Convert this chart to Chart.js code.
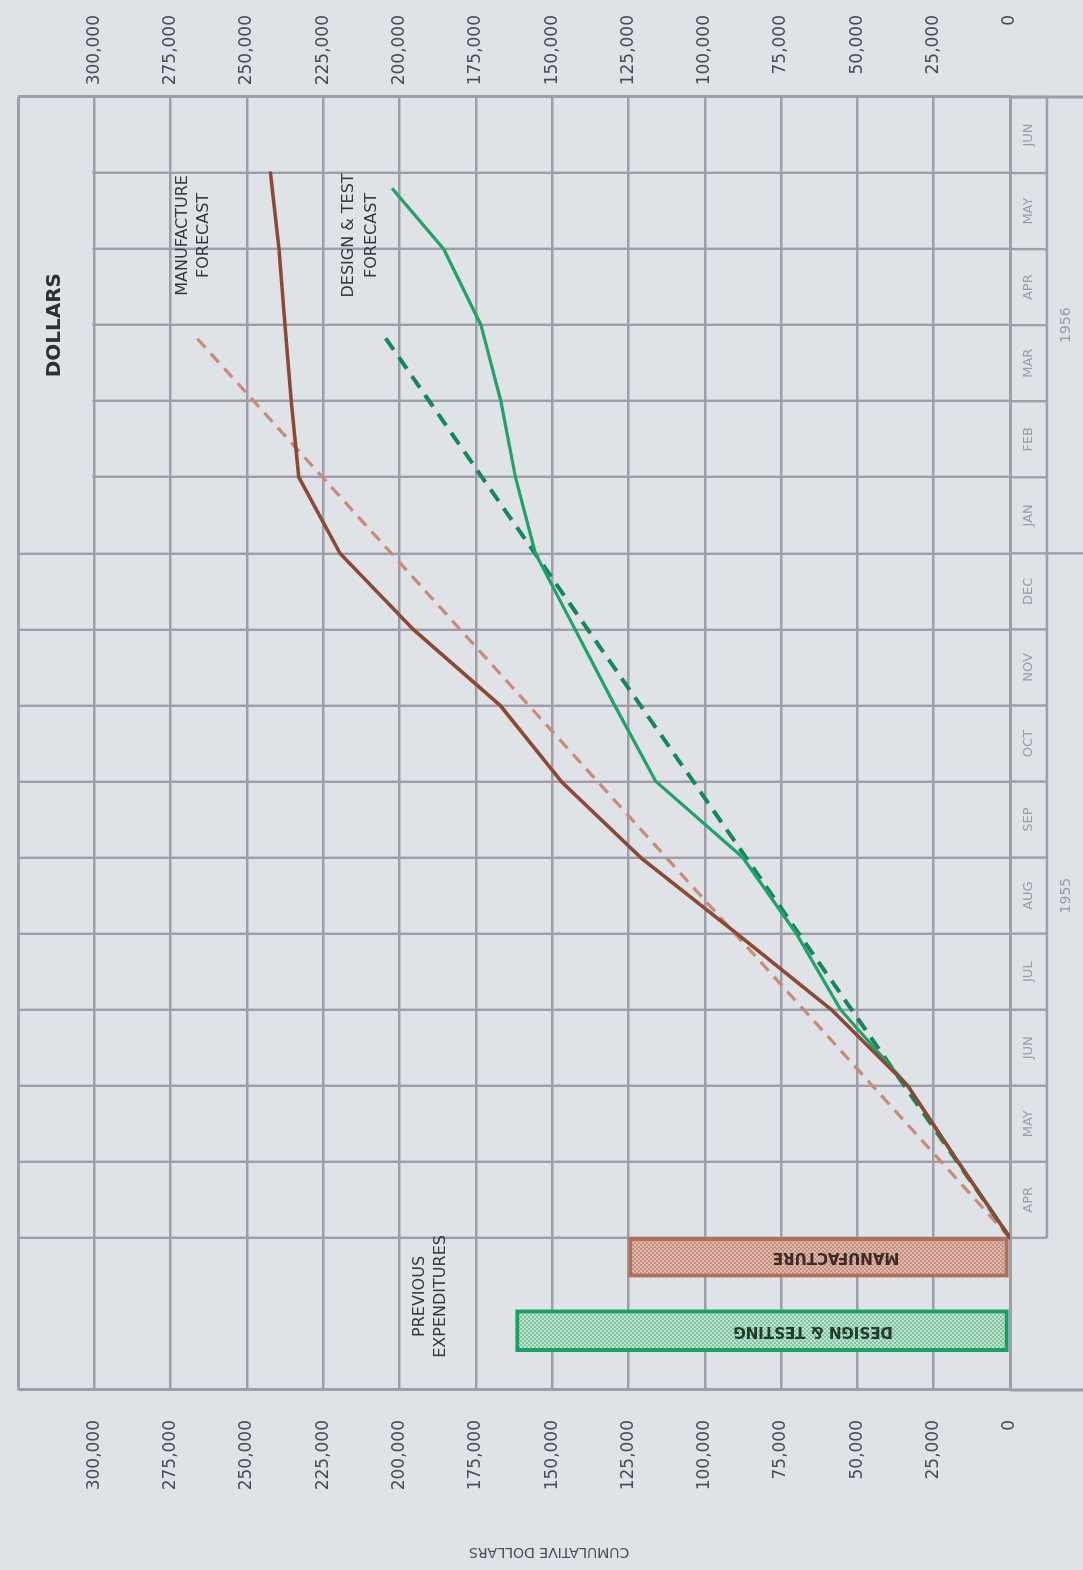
<!DOCTYPE html>
<html>
<head>
  <meta charset="utf-8" />
  <title>Cumulative Dollars</title>
  <script src="https://cdn.jsdelivr.net/npm/chart.js@4.4.1/dist/chart.umd.min.js"></script>
  <style>
    body { margin: 0; background: #dfe2e7; }
    #page { position: relative; width: 1083px; height: 1570px; overflow: hidden; }
    /* the sheet is drawn landscape, then turned a quarter left like the original page */
    #costChart {
      position: absolute; left: 0; top: 0;
      transform-origin: 0 0;
      transform: translate(0, 1570px) rotate(-90deg);
    }
  </style>
</head>
<body>
  <div id="page">
    <canvas id="costChart" width="1570" height="1083"></canvas>
  </div>

  <script>
    // Month columns, APR 1955 .. JUN 1956
    const months = ['APR','MAY','JUN','JUL','AUG','SEP','OCT','NOV','DEC','JAN','FEB','MAR','APR','MAY','JUN'];
    const monthYears = [1955,1955,1955,1955,1955,1955,1955,1955,1955,1956,1956,1956,1956,1956,1956];
    const dollarTicks = [0,25000,50000,75000,100000,125000,150000,175000,200000,225000,250000,275000,300000];
    const gridTop = 325000;   // top edge of the ruled sheet (no label)
    const prevSpan = 2;       // two columns for previous expenditures

    // x = months elapsed since the start of APR 1955 (values read at month ends)
    const manufactureX = [0,1,2,3,4,5,6,7,8,9,10,11,12,13,14];
    const manufactureValues = [0,17000,33500,58500,89500,121000,147000,167000,195500,219500,233000,235500,237500,239500,242300];

    const designX = [0,1,2,3,4,5,6,7,8,9,10,11,12,13,13.8];
    const designValues = [0,17000,33500,55500,70000,87500,116000,129500,142500,155500,162000,166800,173300,185500,202500];

    // straight planned lines (dashed)
    const manufacturePlanX = [0,11.9];
    const manufacturePlanValues = [0,268000];
    const designPlanX = [0,11.9];
    const designPlanValues = [0,205800];

    // previous expenditures
    const previousManufacture = 125000;
    const previousDesign = 162000;

    const gridColor = '#9d9ea9';
    const sheetColor = '#dfe2e7';
    const fontFamily = '"DejaVu Sans", sans-serif';

    function pts(xs, ys) {
      return xs.map((x, i) => ({ x: x, y: ys[i] }));
    }

    // small checker tile for the shaded bars
    function dotPattern(base, dot) {
      const c = document.createElement('canvas');
      c.width = 4; c.height = 4;
      const g = c.getContext('2d');
      g.fillStyle = base; g.fillRect(0, 0, 4, 4);
      g.fillStyle = dot; g.fillRect(0, 0, 2, 2); g.fillRect(2, 2, 2, 2);
      return g.createPattern(c, 'repeat');
    }

    function line(ctx, x1, y1, x2, y2) {
      ctx.beginPath(); ctx.moveTo(x1, y1); ctx.lineTo(x2, y2); ctx.stroke();
    }

    function text(ctx, str, px, py, font, color, rotated) {
      ctx.save();
      ctx.translate(px, py);
      if (rotated) ctx.rotate(-Math.PI / 2);
      ctx.font = font;
      ctx.fillStyle = color;
      ctx.textAlign = 'center';
      ctx.textBaseline = 'middle';
      ctx.fillText(str, 0, 0);
      ctx.restore();
    }

    const yearNames = [...new Set(monthYears)];

    const sheetNotes = {
      id: 'sheetNotes',
      beforeDatasetsDraw(chart) {
        const { ctx, chartArea, scales: { x, y, xm, xy } } = chart;
        const px = v => x.getPixelForValue(v);
        ctx.save();

        // DOLLARS heading box over the 1956 columns, above 300,000
        const split = monthYears.indexOf(1956);
        const l = px(split), r = px(months.length);
        const t = y.getPixelForValue(gridTop), b = y.getPixelForValue(300000);
        ctx.fillStyle = sheetColor;
        ctx.fillRect(l + 2, t + 2, r - l - 4, b - t - 4);
        text(ctx, 'DOLLARS', (l + r) / 2, y.getPixelForValue(313000), 'bold 20px ' + fontFamily, '#2f3036', false);

        // month strip under the grid
        ctx.strokeStyle = gridColor;
        ctx.lineWidth = 2.4;
        const top = chartArea.bottom, mid = xm.bottom, end = xy.bottom;
        for (let i = 0; i <= months.length; i++) line(ctx, px(i), top, px(i), mid);
        line(ctx, px(0), mid, px(months.length), mid);
        line(ctx, px(split), mid, px(split), end);
        ctx.lineWidth = 3;
        line(ctx, px(-prevSpan), top, px(-prevSpan), end);
        line(ctx, px(months.length), top, px(months.length), end);
        ctx.restore();
      },
      afterDatasetsDraw(chart) {
        const { ctx, scales: { x, y } } = chart;
        const px = v => x.getPixelForValue(v);
        const py = v => y.getPixelForValue(v);
        const f = '16px ' + fontFamily;
        const ink = '#35363d';

        text(ctx, 'MANUFACTURE', px(13.18), py(271000), f, ink, false);
        text(ctx, 'FORECAST', px(13.18), py(264200), f, ink, false);
        text(ctx, 'DESIGN & TEST', px(13.18), py(216700), f, ink, false);
        text(ctx, 'FORECAST', px(13.18), py(209100), f, ink, false);
        text(ctx, 'PREVIOUS', px(-0.77), py(193400), f, ink, false);
        text(ctx, 'EXPENDITURES', px(-0.77), py(186500), f, ink, false);

        text(ctx, 'MANUFACTURE', px(-0.255), py(57000), 'bold 15px ' + fontFamily, '#3b2a26', true);
        text(ctx, 'DESIGN & TESTING', px(-1.22), py(64500), 'bold 15px ' + fontFamily, '#233a30', true);

        text(ctx, 'CUMULATIVE DOLLARS', y.left + 18, py(151000), '14px ' + fontFamily, '#4d4e57', true);
      }
    };

    const dollarLabel = v => (v > 300000 ? '' : v.toLocaleString('en-US'));
    const dollarTickList = s => { s.ticks = dollarTicks.concat([gridTop]).map(v => ({ value: v })); };

    new Chart(document.getElementById('costChart'), {
      type: 'line',
      data: {
        datasets: [
          {
            label: 'Manufacture',
            data: pts(manufactureX, manufactureValues),
            borderColor: '#8c4933', borderWidth: 3.6,
            pointRadius: 0, tension: 0, fill: false, borderJoinStyle: 'round', borderCapStyle: 'round'
          },
          {
            label: 'Design & Test',
            data: pts(designX, designValues),
            borderColor: '#21a267', borderWidth: 3.2,
            pointRadius: 0, tension: 0, fill: false, borderJoinStyle: 'round'
          },
          {
            label: 'Design & Test plan',
            data: pts(designPlanX, designPlanValues),
            borderColor: '#14875b', borderWidth: 4, borderDash: [14, 9],
            pointRadius: 0, tension: 0, fill: false
          },
          {
            label: 'Manufacture plan',
            data: pts(manufacturePlanX, manufacturePlanValues),
            borderColor: '#c98a76', borderWidth: 3.2, borderDash: [12, 8],
            pointRadius: 0, tension: 0, fill: false
          },
          {
            type: 'bar',
            label: 'Previous manufacture',
            data: [{ x: -0.255, y: [0, previousManufacture] }],
            backgroundColor: dotPattern('#e0b9ae', '#c68f7f'),
            borderColor: '#b2705c', borderWidth: 4, borderSkipped: false,
            barThickness: 40, grouped: false
          },
          {
            type: 'bar',
            label: 'Previous design & testing',
            data: [{ x: -1.22, y: [0, previousDesign] }],
            backgroundColor: dotPattern('#bde3cf', '#82c4a2'),
            borderColor: '#17a062', borderWidth: 4, borderSkipped: false,
            barThickness: 42, grouped: false
          }
        ]
      },
      options: {
        responsive: false,
        animation: false,
        devicePixelRatio: 1,
        layout: { padding: { top: 18, right: 15, left: 0, bottom: 0 } },
        plugins: { legend: { display: false }, tooltip: { enabled: false } },
        scales: {
          x: {
            type: 'linear', position: 'bottom', weight: 0,
            min: -prevSpan, max: months.length,
            offset: false,
            afterBuildTicks: s => {
              s.ticks = [-prevSpan].concat(months.map((m, i) => i), [months.length]).map(v => ({ value: v }));
            },
            ticks: { display: false },
            border: { display: false },
            grid: {
              offset: false, drawTicks: false, color: gridColor,
              lineWidth: c => (c.tick && (c.tick.value === -prevSpan || c.tick.value === months.length)) ? 3 : 2.4
            },
            afterFit: s => { s.height = 0; }
          },
          xm: {
            type: 'linear', position: 'bottom', weight: 1,
            min: -prevSpan, max: months.length, offset: false,
            afterBuildTicks: s => { s.ticks = months.map((m, i) => ({ value: i + 0.5 })); },
            ticks: {
              autoSkip: false, maxRotation: 0, minRotation: 0, padding: 11,
              color: '#9a9ba6', font: { family: fontFamily, size: 13 },
              callback: (v, i) => months[i]
            },
            grid: { display: false, drawTicks: false },
            border: { display: false },
            afterFit: s => { s.height = 37; }
          },
          xy: {
            type: 'linear', position: 'bottom', weight: 2,
            min: -prevSpan, max: months.length, offset: false,
            afterBuildTicks: s => {
              s.ticks = yearNames.map(yr => {
                const first = monthYears.indexOf(yr), last = monthYears.lastIndexOf(yr);
                return { value: (first + last + 1) / 2 };
              });
            },
            ticks: {
              autoSkip: false, maxRotation: 0, minRotation: 0, padding: 11,
              color: '#9a9ba6', font: { family: fontFamily, size: 14 },
              callback: (v, i) => String(yearNames[i])
            },
            grid: { display: false, drawTicks: false },
            border: { display: false },
            afterFit: s => { s.height = 36; }
          },
          y: {
            type: 'linear', position: 'left',
            min: 0, max: gridTop,
            afterBuildTicks: dollarTickList,
            ticks: {
              padding: 6, color: '#4a4b55',
              font: { family: fontFamily, size: 17 },
              callback: dollarLabel
            },
            grid: {
              // invisible tick marks keep the labels clear of the sheet
              drawTicks: true, tickLength: 24, tickColor: 'rgba(0,0,0,0)',
              color: gridColor,
              lineWidth: c => (c.tick && (c.tick.value === 0 || c.tick.value === gridTop)) ? 3 : 2.4
            },
            border: { display: false },
            afterFit: s => { s.width = 180; }
          },
          y2: {
            type: 'linear', position: 'right',
            min: 0, max: gridTop,
            afterBuildTicks: dollarTickList,
            ticks: {
              crossAlign: 'far', padding: 3, color: '#4a4b55',
              font: { family: fontFamily, size: 17 },
              callback: dollarLabel
            },
            grid: { display: false, drawTicks: false },
            border: { display: false },
            afterFit: s => { s.width = 82; }
          }
        }
      },
      plugins: [sheetNotes]
    });
  </script>
</body>
</html>
